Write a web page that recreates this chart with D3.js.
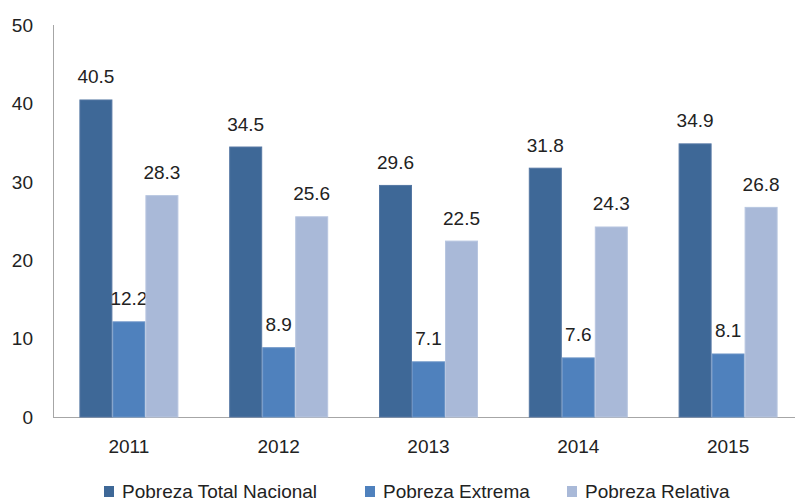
<!DOCTYPE html>
<html><head><meta charset="utf-8">
<script src="https://cdn.jsdelivr.net/npm/d3@7"></script>
<style>body{margin:0;background:#fff}</style>
</head><body>
<svg id="c" width="795" height="501"></svg>
<script>
const years = ["2011","2012","2013","2014","2015"];
const seriesNames = ["Pobreza Total Nacional","Pobreza Extrema","Pobreza Relativa"];
const totalNacional = [40.5,34.5,29.6,31.8,34.9];
const extrema = [12.2,8.9,7.1,7.6,8.1];
const relativa = [28.3,25.6,22.5,24.3,26.8];
const yTicks = [0,10,20,30,40,50];
const colors = ["#3E6897","#4F81BD","#A9B9D8"];
const strokes = ["#5577a3","#6a93c6","#b8c6e0"];

const svg = d3.select("#c");
const font = "'Liberation Sans', Arial, sans-serif";
const fs = 19;
const x0 = d3.scaleBand().domain(years).range([54,803]);
const barW = 33;
const x1 = d3.scaleBand().domain(seriesNames).range([-1.5*barW,1.5*barW]);
const y = d3.scaleLinear().domain([0,50]).range([417,25]);
const data = [totalNacional, extrema, relativa];

// axes
svg.append("line").attr("x1",53.5).attr("x2",53.5).attr("y1",y(50)).attr("y2",y(0)).attr("stroke","#a6a6a6");
svg.append("line").attr("x1",53).attr("x2",795).attr("y1",y(0)+0.5).attr("y2",y(0)+0.5).attr("stroke","#a6a6a6");
svg.selectAll(".yt").data(yTicks).enter().append("text")
  .attr("x",33).attr("y",d=>y(d)).attr("dy","0.36em").attr("text-anchor","end")
  .attr("font-family",font).attr("font-size",fs).attr("fill","#222").text(d=>d);

// bars
seriesNames.forEach((s,i)=>{
  const g = svg.append("g");
  g.selectAll("rect").data(years).enter().append("rect")
    .attr("x",d=>x0(d)+x0.bandwidth()/2+x1(s)+0.5).attr("width",barW-1)
    .attr("y",(d,j)=>y(data[i][j])+0.5).attr("height",(d,j)=>y(0)-y(data[i][j])-0.5)
    .attr("fill",colors[i]).attr("stroke",strokes[i]).attr("stroke-width",1);
  g.selectAll("text").data(years).enter().append("text")
    .attr("x",d=>x0(d)+x0.bandwidth()/2+x1(s)+barW/2).attr("y",(d,j)=>y(data[i][j])-16)
    .attr("text-anchor","middle").attr("font-family",font).attr("font-size",fs).attr("fill","#222")
    .text((d,j)=>data[i][j].toFixed(1));
});

// x labels
svg.selectAll(".xt").data(years).enter().append("text")
  .attr("x",d=>x0(d)+x0.bandwidth()/2).attr("y",453).attr("text-anchor","middle")
  .attr("font-family",font).attr("font-size",fs).attr("fill","#222").text(d=>d);

// legend
const legX = [104,365,567];
seriesNames.forEach((s,i)=>{
  svg.append("rect").attr("x",legX[i]).attr("y",486).attr("width",10).attr("height",11).attr("fill",colors[i]);
  svg.append("text").attr("x",legX[i]+18).attr("y",498).attr("font-family",font).attr("font-size",fs).attr("fill","#222").text(s);
});
</script>
</body></html>
